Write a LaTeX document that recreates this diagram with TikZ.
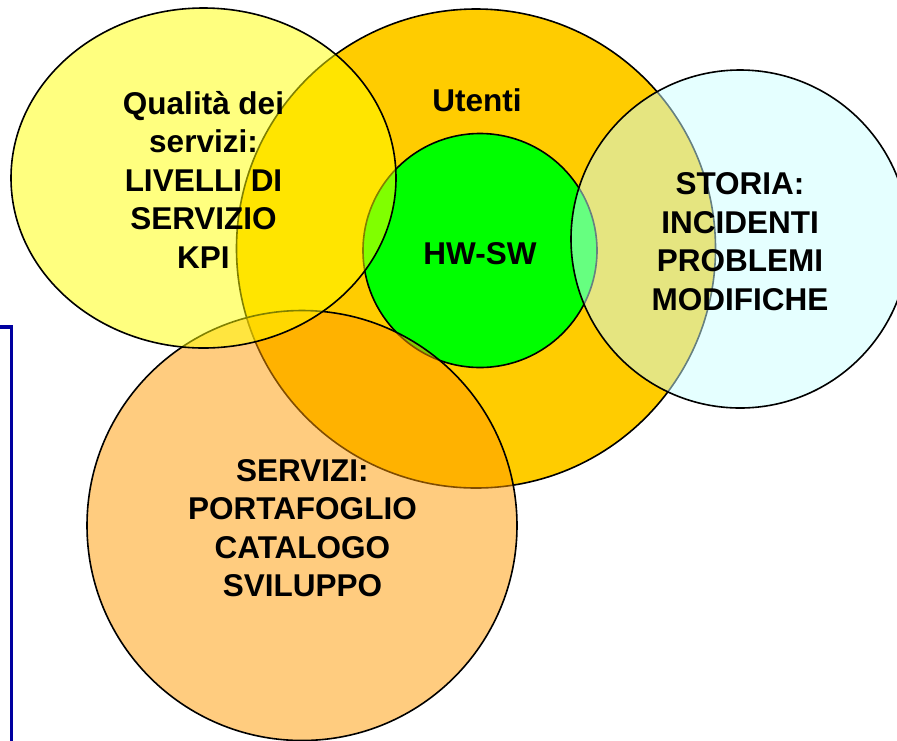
\documentclass[tikz,border=0pt]{standalone}
\usepackage{fontspec}
\setmainfont{Liberation Sans}
\definecolor{cOrange}{HTML}{FFCC00}
\definecolor{cGreen}{HTML}{00FF00}
\definecolor{cServ}{HTML}{FF9900}
\definecolor{cCyan}{HTML}{CCFFFF}
\definecolor{cYellow}{HTML}{FFFF00}
\definecolor{cBlue}{HTML}{0000A0}
\begin{document}
\begin{tikzpicture}[x=1pt,y=-1pt,
  blob/.style={draw=black, line width=1.6pt},
  lbl/.style={font=\bfseries\fontsize{31.5}{38.4}\selectfont, align=center, inner sep=0pt, anchor=base}]
\useasboundingbox (0,0) rectangle (897,740);
\clip (0,0) rectangle (897,740);
% frame edge
\draw[cBlue, line width=3.2pt, line join=miter] (-5,327) -- (11.5,327) -- (11.5,760);
% circles
\draw[blob, fill=cOrange] (476,248.5) circle (239.5);
\draw[blob, fill=cGreen] (480,250.5) circle (117);
\draw[blob, fill=cServ, fill opacity=0.5] (302,525.5) circle (215);
\draw[blob, fill=cCyan, fill opacity=0.5] (740,239) circle (169);
\draw[blob, fill=cYellow, fill opacity=0.5] (203.5,178) ellipse [x radius=192.5, y radius=170];
% labels (anchor = baseline of last line)
\node[lbl] (qual) at (203.5,268) {Qualità dei\\servizi:\\LIVELLI DI\\SERVIZIO\\KPI};
\node[lbl] (uten) at (477,111.7) {Utenti};
\node[lbl] (hwsw) at (480,264) {HW-SW};
\node[lbl] (stor) at (740,310) {STORIA:\\INCIDENTI\\PROBLEMI\\MODIFICHE};
\node[lbl] (serv) at (302.4,596.7) {SERVIZI:\\PORTAFOGLIO\\CATALOGO\\SVILUPPO};
\end{tikzpicture}
\end{document}
